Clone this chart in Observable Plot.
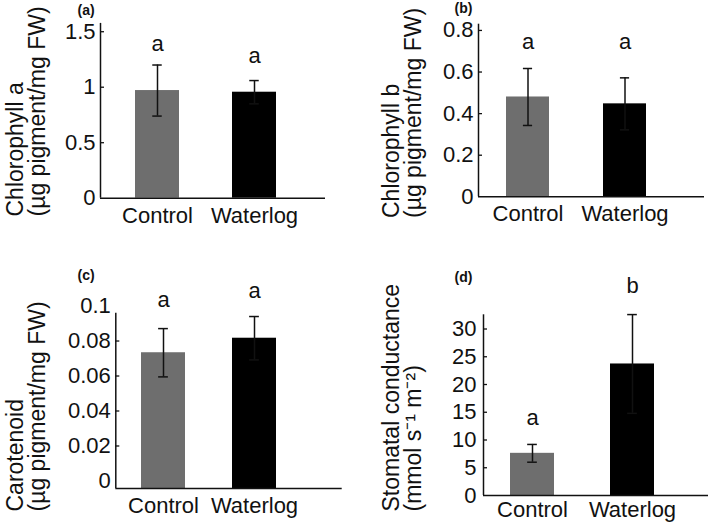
<!DOCTYPE html>
<html><head><meta charset="utf-8">
<script src="https://cdn.jsdelivr.net/npm/d3@7"></script>
<script src="https://cdn.jsdelivr.net/npm/@observablehq/plot@0.6"></script>
<style>
body{margin:0;background:#fff;}
#fig{position:relative;width:709px;height:522px;overflow:hidden;background:#fff;}
#fig svg{position:absolute;}
</style></head><body><div id="fig"></div>
<script>
const categories = ["Control", "Waterlog"];
const barColors = ["#6e6e6e", "#000000"];

// (a) Chlorophyll a
const chlorophyllA = [0.97, 0.955];
const chlorophyllAErr = [0.23, 0.105];
const chlorophyllALetters = ["a", "a"];
const chlorophyllALetterY = [1.33, 1.22];
const chlorophyllATicks = [0, 0.5, 1, 1.5];
const chlorophyllATickLabels = ["0", "0.5", "1", "1.5"];

// (b) Chlorophyll b
const chlorophyllB = [0.48, 0.447];
const chlorophyllBErr = [0.137, 0.125];
const chlorophyllBLetters = ["a", "a"];
const chlorophyllBLetterY = [0.71, 0.71];
const chlorophyllBTicks = [0, 0.2, 0.4, 0.6, 0.8];
const chlorophyllBTickLabels = ["0", "0.2", "0.4", "0.6", "0.8"];

// (c) Carotenoid
const carotenoid = [0.0733, 0.0816];
const carotenoidErr = [0.0138, 0.0124];
const carotenoidLetters = ["a", "a"];
const carotenoidLetterY = [0.0997, 0.1045];
const carotenoidTicks = [0, 0.02, 0.04, 0.06, 0.08, 0.1];
const carotenoidTickLabels = ["0", "0.02", "0.04", "0.06", "0.08", "0.1"];

// (d) Stomatal conductance
const stomatal = [7.6, 23.7];
const stomatalErr = [1.6, 8.9];
const stomatalLetters = ["a", "b"];
const stomatalLetterY = [12.7, 36.4];
const stomatalTicks = [0, 5, 10, 15, 20, 25, 30];
const stomatalTickLabels = ["0", "5", "10", "15", "20", "25", "30"];

const FONT = "Arial, 'Liberation Sans', Helvetica, sans-serif";
const INK = "#111";

const panels = [
  {tag: "(a)", ylabel: "Chlorophyll a\n(µg pigment/mg FW)",
   values: chlorophyllA, errs: chlorophyllAErr, letters: chlorophyllALetters, letterY: chlorophyllALetterY,
   ticks: chlorophyllATicks, tickLabels: chlorophyllATickLabels,
   left: 0, top: 0, width: 354, height: 261,
   marginLeft: 100, marginRight: 29, marginTop: 22.9, marginBottom: 63.3,
   yDomain: [0, 1.575], xRange: [134.3, 276.7], paddingInner: 0.545,
   ylabelAt: [44, 216], tagAt: [77, 14], catPad: 9, tickGap: 5},
  {tag: "(b)", ylabel: "Chlorophyll b\n(µg pigment/mg FW)",
   values: chlorophyllB, errs: chlorophyllBErr, letters: chlorophyllBLetters, letterY: chlorophyllBLetterY,
   ticks: chlorophyllBTicks, tickLabels: chlorophyllBTickLabels,
   left: 354, top: 0, width: 355, height: 261,
   marginLeft: 124, marginRight: 5, marginTop: 23.7, marginBottom: 64.7,
   yDomain: [0, 0.83], xRange: [151.7, 293.3], paddingInner: 0.552,
   ylabelAt: [66, 217.5], tagAt: [100, 12.5], catPad: 9, tickGap: 5},
  {tag: "(c)", ylabel: "Carotenoid\n(µg pigment/mg FW)",
   values: carotenoid, errs: carotenoidErr, letters: carotenoidLetters, letterY: carotenoidLetterY,
   ticks: carotenoidTicks, tickLabels: carotenoidTickLabels,
   left: 0, top: 261, width: 354, height: 261,
   marginLeft: 115.3, marginRight: 12.3, marginTop: 51.7, marginBottom: 34,
   yDomain: [-0.0043, 0.0959], xRange: [140.7, 276.7], paddingInner: 0.518,
   ylabelAt: [44, 250], tagAt: [77, 18.5], catPad: 9, tickGap: 5},
  {tag: "(d)", ylabel: "Stomatal conductance\n(mmol s\u207B\u00B9 m\u207B\u00B2)",
   values: stomatal, errs: stomatalErr, letters: stomatalLetters, letterY: stomatalLetterY,
   ticks: stomatalTicks, tickLabels: stomatalTickLabels,
   left: 354, top: 261, width: 355, height: 261,
   marginLeft: 129, marginRight: 1, marginTop: 53.3, marginBottom: 27,
   yDomain: [0, 32.56], xRange: [155, 300.3], paddingInner: 0.561,
   ylabelAt: [66, 250], tagAt: [100, 20.5], catPad: 6, tickGap: 7}
];

const fig = document.getElementById("fig");

for (const p of panels) {
  const rows = categories.map((c, i) => ({cat: c, v: p.values[i], e: p.errs[i], letter: p.letters[i], ly: p.letterY[i]}));
  const frameW = p.width - p.marginLeft - p.marginRight;
  const step = (p.xRange[1] - p.xRange[0]) / (2 - p.paddingInner);
  const bw = step * (1 - p.paddingInner);
  const capW = 10;
  const base = p.yDomain[0];
  const tickMarks = p.ticks.filter(t => t !== 0 && t > p.yDomain[0] && t <= p.yDomain[1]);
  const bottomY = p.height - p.marginBottom;

  const chart = Plot.plot({
    width: p.width, height: p.height,
    marginLeft: p.marginLeft, marginRight: p.marginRight,
    marginTop: p.marginTop, marginBottom: p.marginBottom,
    style: {fontFamily: FONT, fontSize: "22px", background: "transparent", overflow: "visible", color: INK},
    x: {type: "band", domain: categories, range: p.xRange, paddingInner: p.paddingInner, paddingOuter: 0, axis: null},
    y: {domain: p.yDomain, axis: null},
    color: {domain: categories, range: barColors},
    marks: [
      Plot.barY(rows, {x: "cat", y1: () => base, y2: "v", fill: "cat"}),
      Plot.ruleX(rows, {x: "cat", y1: d => d.v - d.e, y2: d => d.v + d.e, stroke: INK, strokeWidth: 1.5}),
      Plot.tickY(rows, {x: "cat", y: d => d.v + d.e, stroke: INK, strokeWidth: 1.5, inset: (bw - capW) / 2}),
      Plot.tickY(rows, {x: "cat", y: d => d.v - d.e, stroke: INK, strokeWidth: 1.5, inset: (bw - capW) / 2}),
      // axes lines
      Plot.ruleY([base], {stroke: INK, strokeWidth: 1.5}),
      Plot.ruleX([0], {x: null, y1: () => p.yDomain[0], y2: () => p.yDomain[1], dx: -frameW / 2, stroke: INK, strokeWidth: 1.5}),
      // inward ticks
      Plot.ruleY(tickMarks, {y: d => d, insetRight: frameW - 4, stroke: INK, strokeWidth: 1.3}),
      // tick labels
      Plot.text(p.ticks, {y: d => d, text: (d, i) => p.tickLabels[i], frameAnchor: "left", textAnchor: "end", dx: -p.tickGap, fill: INK, fontSize: 22}),
      // category labels
      Plot.text(rows, {x: "cat", text: "cat", frameAnchor: "bottom", lineAnchor: "top", dy: p.catPad, fill: INK, fontSize: 22}),
      // significance letters
      Plot.text(rows, {x: "cat", y: "ly", text: "letter", lineAnchor: "bottom", fill: INK, fontSize: 22}),
      // y label
      Plot.text([p.ylabel], {frameAnchor: "bottom-left", rotate: -90, textAnchor: "start", lineAnchor: "bottom",
        lineHeight: 0.95, fontSize: 23, fill: INK,
        dx: p.ylabelAt[0] - p.marginLeft, dy: p.ylabelAt[1] - bottomY}),
      // panel tag
      Plot.text([p.tag], {frameAnchor: "top-left", textAnchor: "start", lineAnchor: "bottom", fontSize: 14, fontWeight: "bold", fill: INK,
        dx: p.tagAt[0] - p.marginLeft, dy: p.tagAt[1] - p.marginTop})
    ]
  });
  chart.style.left = p.left + "px";
  chart.style.top = p.top + "px";
  fig.appendChild(chart);
}
</script>
</body></html>
